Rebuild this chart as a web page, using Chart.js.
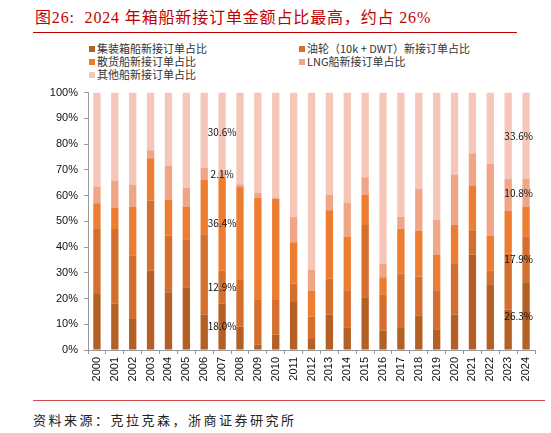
<!DOCTYPE html>
<html>
<head>
<meta charset="utf-8">
<script src="https://cdn.jsdelivr.net/npm/chart.js@4.4.1/dist/chart.umd.min.js"></script>
<style>
  body { margin: 0; background: #fff; }
  #page { position: relative; width: 551px; height: 433px; overflow: hidden; font-family: "Liberation Sans", "Noto Sans CJK SC", sans-serif; }
  #title { position: absolute; left: 35px; top: 4px; font: 16px "Liberation Serif", "Noto Sans CJK SC", serif; color: #c00000; white-space: pre; letter-spacing: 0.85px; }
  #topLine { position: absolute; left: 33px; top: 32px; width: 484px; height: 1px; background: #c00000; }
  #legend { position: absolute; left: 89px; top: 42px; width: 450px; font: 11px "Noto Sans CJK SC", sans-serif; color: #333; }
  .item { position: absolute; white-space: nowrap; line-height: 13px; }
  .box { display: inline-block; width: 6px; height: 6px; margin-right: 2px; vertical-align: 1px; }
  #wrap { position: absolute; left: 0; top: 80px; width: 551px; height: 315px; }
  #bottomLine { position: absolute; left: 33px; top: 400px; width: 512px; height: 1px; background: #d04a4a; }
  #source { position: absolute; left: 33px; top: 410px; font: 13px "Noto Sans CJK SC", sans-serif; color: #222; letter-spacing: 2.5px; white-space: pre; }
</style>
</head>
<body>
<div id="page">
  <div id="title">图26:  2024 年箱船新接订单金额占比最高，约占 26%</div>
  <div id="topLine"></div>
  <div id="legend"></div>
  <div id="wrap"><canvas id="shipChart"></canvas></div>
  <div id="bottomLine"></div>
  <div id="source">资料来源：克拉克森，浙商证券研究所</div>
</div>
<script>
// Tahun (kategori sumbu x)
var years = ["2000", "2001", "2002", "2003", "2004", "2005", "2006", "2007", "2008", "2009",
  "2010", "2011", "2012", "2013", "2014", "2015", "2016", "2017", "2018", "2019",
  "2020", "2021", "2022", "2023", "2024"];

// Porsi tiap jenis kapal (%)
var containerShare = [21.8, 18.0, 12.0, 30.8, 22.4, 24.4, 13.8, 18.0, 9.1, 2.1,
  5.9, 18.6, 4.3, 13.7, 8.8, 20.5, 7.6, 8.5, 13.4, 8.1,
  13.8, 37.1, 25.5, 15.7, 26.3];
var tankerShare = [25.2, 29.0, 24.8, 27.3, 22.0, 18.6, 31.2, 12.9, 18.4, 17.6,
  13.5, 7.1, 8.6, 14.0, 14.4, 28.1, 14.1, 21.1, 15.2, 15.1,
  19.9, 9.4, 5.3, 21.8, 17.9];
var bulkShare = [10.0, 8.3, 18.8, 16.4, 14.1, 12.6, 21.0, 36.4, 36.0, 39.4,
  39.4, 16.2, 10.0, 26.6, 20.7, 11.7, 6.6, 17.5, 17.7, 13.9,
  14.9, 17.2, 13.5, 16.5, 11.4];
var lngShare = [6.5, 10.5, 8.5, 3.1, 13.2, 7.3, 4.7, 2.1, 0.9, 1.9,
  0.4, 9.9, 8.4, 5.9, 13.4, 6.8, 5.3, 4.6, 16.3, 13.5,
  19.6, 12.7, 28.1, 12.4, 10.8];
var otherShare = [36.5, 34.2, 35.9, 22.4, 28.3, 37.1, 29.3, 30.6, 35.6, 39.0,
  40.8, 48.2, 68.7, 39.8, 42.7, 32.9, 66.4, 48.3, 37.4, 49.4,
  31.8, 23.6, 27.6, 33.6, 33.6];

var seriesNames = ["集装箱船新接订单占比", "油轮（10k + DWT）新接订单占比", "散货船新接订单占比",
  "LNG船新接订单占比", "其他船新接订单占比"];
var seriesColors = ["#b45f23", "#d56f2d", "#ed7d31", "#f0a686", "#f6c7b8"];
var yTicks = [0, 10, 20, 30, 40, 50, 60, 70, 80, 90, 100];

// Tahun yang diberi label angka, dan seri mana yang ditampilkan
var labelledYears = { "2007": [0, 1, 2, 3, 4], "2024": [0, 1, 3, 4] };

var allSeries = [containerShare, tankerShare, bulkShare, lngShare, otherShare];

// Legend dua kolom (HTML)
var legendBox = document.getElementById("legend");
seriesNames.forEach(function (name, i) {
  var el = document.createElement("div");
  el.className = "item";
  el.style.left = (i % 2 === 0 ? 0 : 210) + "px";
  el.style.top = (Math.floor(i / 2) * 13) + "px";
  el.innerHTML = '<span class="box" style="background:' + seriesColors[i] + '"></span>' + name;
  legendBox.appendChild(el);
});

var datasets = seriesNames.map(function (name, i) {
  return {
    label: name,
    data: allSeries[i],
    backgroundColor: seriesColors[i],
    borderWidth: 0,
    barPercentage: 0.82,
    categoryPercentage: 0.5
  };
});

// Plugin kecil untuk menulis persentase di tengah segmen
var segmentLabels = {
  id: "segmentLabels",
  afterDatasetsDraw: function (chart) {
    var ctx = chart.ctx;
    ctx.save();
    ctx.font = '10px "Noto Sans CJK SC", sans-serif';
    ctx.fillStyle = "#111";
    ctx.textBaseline = "middle";
    ctx.textAlign = "center";
    Object.keys(labelledYears).forEach(function (year) {
      var idx = years.indexOf(year);
      labelledYears[year].forEach(function (d) {
        var bar = chart.getDatasetMeta(d).data[idx];
        var txt = allSeries[d][idx].toFixed(1) + "%";
        var w = ctx.measureText(txt).width;
        var x = Math.min(bar.x, chart.chartArea.right - w / 2 - 2);
        var y = (bar.y + bar.base) / 2;
        ctx.fillText(txt, x, y);
      });
    });
    ctx.restore();
  }
};

var ctxShip = document.getElementById("shipChart").getContext("2d");
var shipChart = new Chart(ctxShip, {
  type: "bar",
  data: {
    labels: years,
    datasets: datasets
  },
  plugins: [segmentLabels],
  options: {
    responsive: true,
    maintainAspectRatio: false,
    animation: false,
    layout: { padding: { top: 5, right: 16, left: 0, bottom: 0 } },
    plugins: {
      legend: { display: false },
      tooltip: { enabled: false }
    },
    scales: {
      x: {
        stacked: true,
        afterFit: function (scale) { scale.height = 45; },
        grid: { drawOnChartArea: false, tickLength: 4, color: "#999" },
        border: { color: "#999" },
        ticks: {
          minRotation: 90,
          maxRotation: 90,
          padding: 3,
          color: "#111",
          font: { family: "Liberation Sans", size: 11 }
        }
      },
      y: {
        stacked: true,
        min: 0,
        max: 100,
        afterFit: function (scale) { scale.width = 88; },
        afterBuildTicks: function (scale) {
          scale.ticks = yTicks.map(function (v) { return { value: v }; });
        },
        grid: { drawOnChartArea: false, tickLength: 4, color: "#999" },
        border: { color: "#999" },
        ticks: {
          padding: 6,
          color: "#111",
          font: { family: "Liberation Sans", size: 11 },
          callback: function (v) { return v + "%"; }
        }
      }
    }
  }
});
</script>
</body>
</html>
